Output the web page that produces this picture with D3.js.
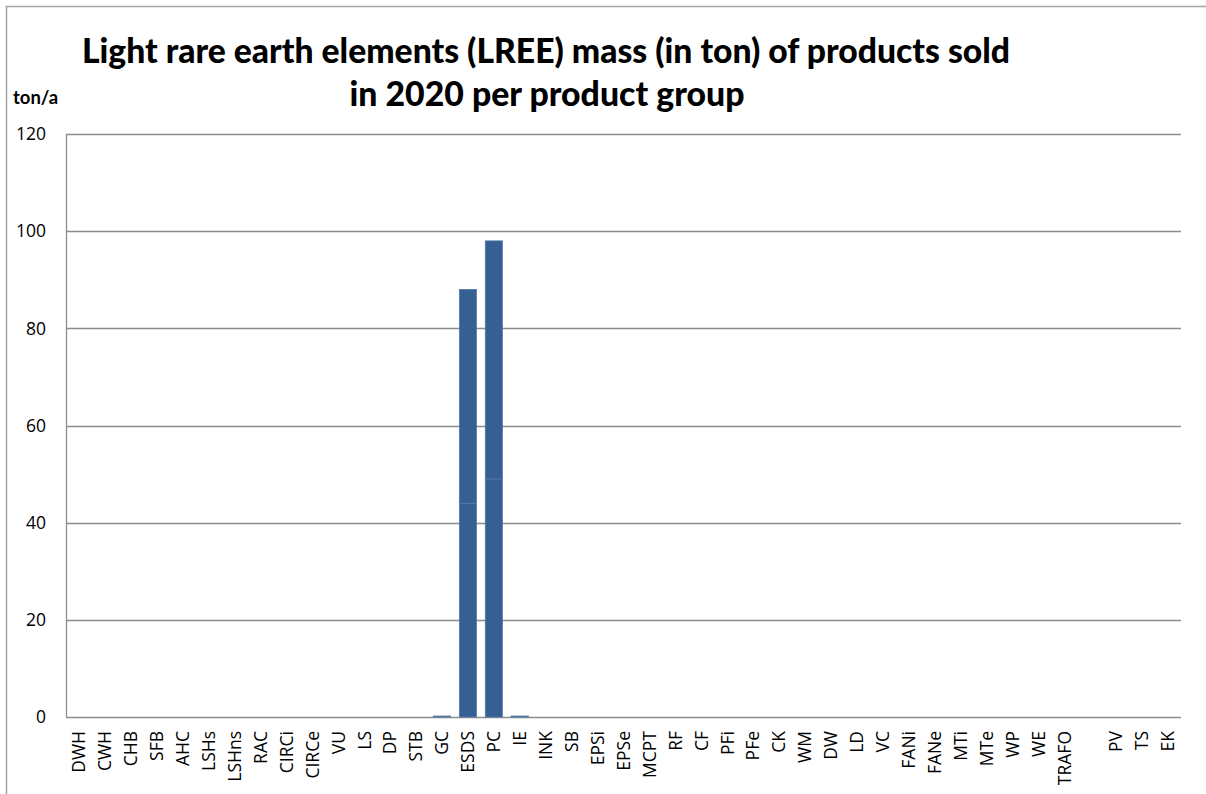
<!DOCTYPE html>
<html>
<head>
<meta charset="utf-8">
<script src="https://cdn.jsdelivr.net/npm/d3@7"></script>
<style>
  html, body { margin: 0; padding: 0; background: #fff; }
  svg { display: block; }
</style>
</head>
<body>
<svg id="chart" width="1206" height="794"></svg>
<script>
// Product groups (one empty slot between TRAFO and PV)
const categories = ["DWH","CWH","CHB","SFB","AHC","LSHs","LSHns","RAC","CIRCi","CIRCe",
  "VU","LS","DP","STB","GC","ESDS","PC","IE","INK","SB","EPSi","EPSe","MCPT","RF","CF",
  "PFi","PFe","CK","WM","DW","LD","VC","FANi","FANe","MTi","MTe","WP","WE","TRAFO","",
  "PV","TS","EK"];

// Two stacked segments per product group, ton/a
const seriesLower = [0,0,0,0,0,0,0,0,0,0, 0,0,0,0,0.1,44,49,0.1,0,0, 0,0,0,0,0,
  0,0,0,0,0,0,0,0,0,0,0,0,0,0,0, 0,0,0];
const seriesUpper = [0,0,0,0,0,0,0,0,0,0, 0,0,0,0,0.1,44,49,0.1,0,0, 0,0,0,0,0,
  0,0,0,0,0,0,0,0,0,0,0,0,0,0,0, 0,0,0];

const yTicks = [0, 20, 40, 60, 80, 100, 120];
const titleLines = ["Light rare earth elements (LREE) mass (in ton) of products sold",
  "in 2020 per product group"];
const unitLabel = "ton/a";

const svg = d3.select("#chart");
const plot = { left: 66, right: 1181, top: 134, bottom: 717 };

// Outer chart frame (runs past the right and bottom edges)
svg.append("rect")
  .attr("x", 6.5).attr("y", 6.5).attr("width", 1400).attr("height", 1000)
  .attr("fill", "none").attr("stroke", "#a3a3a3").attr("stroke-width", 1.5);

const x = d3.scaleBand().domain(d3.range(categories.length))
  .range([plot.left, plot.right]).paddingInner(0.34).paddingOuter(0.17);
const y = d3.scaleLinear().domain([0, 120]).range([plot.bottom, plot.top]);

// Horizontal gridlines
svg.append("g").selectAll("line").data(yTicks).join("line")
  .attr("x1", plot.left).attr("x2", plot.right)
  .attr("y1", d => Math.round(y(d)) + 0.5).attr("y2", d => Math.round(y(d)) + 0.5)
  .attr("stroke", "#8c8c8c").attr("stroke-width", 1.3);

// Value axis line
svg.append("line")
  .attr("x1", plot.left + 0.5).attr("x2", plot.left + 0.5)
  .attr("y1", plot.top).attr("y2", plot.bottom)
  .attr("stroke", "#8c8c8c").attr("stroke-width", 1.3);

// Y tick labels
svg.append("g").selectAll("text").data(yTicks).join("text")
  .attr("x", 46).attr("y", d => y(d))
  .attr("dy", "0.36em")
  .attr("text-anchor", "end")
  .attr("font-family", "'Open Sans', sans-serif")
  .attr("font-size", 17.5)
  .attr("fill", "#000")
  .text(d => d);

// Stacked bars
const stackData = categories.map((c, i) => ({ i, lower: seriesLower[i], upper: seriesUpper[i] }));
const stacked = d3.stack().keys(["lower", "upper"])(stackData);
svg.append("g").selectAll("g").data(stacked).join("g")
  .selectAll("rect").data(s => s.filter(d => d[1] - d[0] > 0)).join("rect")
  .attr("x", d => x(d.data.i))
  .attr("width", x.bandwidth())
  .attr("y", d => y(d[1]))
  .attr("height", d => y(d[0]) - y(d[1]))
  .attr("fill", "#365f93")
  .attr("stroke", "#5479a8")
  .attr("stroke-width", 0.8);

// Category labels, rotated
const xLabels = svg.append("g");
categories.forEach((c, i) => {
  if (!c) return;
  xLabels.append("text")
    .attr("transform", `translate(${x(i) + x.bandwidth() / 2},731) rotate(-90)`)
    .attr("text-anchor", "end")
    .attr("dy", "0.36em")
    .attr("font-family", "'Open Sans', sans-serif")
    .attr("font-size", 17.5)
    .attr("fill", "#000")
    .text(c);
});

// Title
const title = svg.append("g")
  .attr("font-family", "Lato, sans-serif")
  .attr("font-weight", "900")
  .attr("font-size", 35)
  .attr("fill", "#000")
  .attr("text-anchor", "middle");
title.append("text").attr("x", 546).attr("y", 63)
  .attr("textLength", 928).attr("lengthAdjust", "spacingAndGlyphs")
  .text(titleLines[0]);
title.append("text").attr("x", 547).attr("y", 106)
  .attr("textLength", 395).attr("lengthAdjust", "spacingAndGlyphs")
  .text(titleLines[1]);

// Unit label
svg.append("text")
  .attr("x", 13).attr("y", 104)
  .attr("font-family", "Lato, sans-serif")
  .attr("font-weight", "bold")
  .attr("font-size", 19)
  .attr("textLength", 45).attr("lengthAdjust", "spacingAndGlyphs")
  .text(unitLabel);
</script>
</body>
</html>
